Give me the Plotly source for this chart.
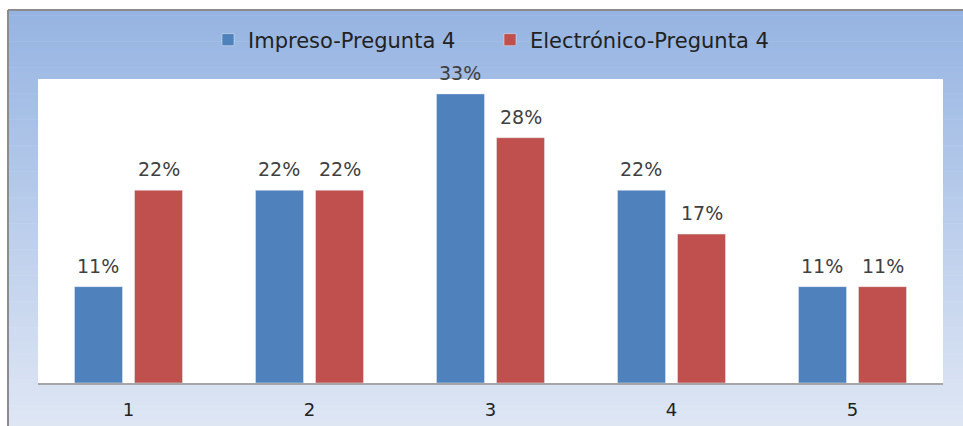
import plotly.graph_objects as go

# Survey results, question 4: share of answers per rating
categories = ["1", "2", "3", "4", "5"]
impreso = [11, 22, 33, 22, 11]
electronico = [22, 22, 28, 17, 11]
series_names = ["Impreso-Pregunta 4", "Electrónico-Pregunta 4"]
series_colors = ["#4F81BD", "#C0504D"]

W, H = 963, 426
L, R, T, B = 38, 20, 79, 43
plot_w = W - L - R
plot_h = H - T - B
BARGAP, GROUPGAP = 0.337, 0.2


def px_x(px):
    return (px - L) / plot_w


def px_y(py):
    return (H - B - py) / plot_h


fig = go.Figure()
for name, vals, col in zip(series_names, [impreso, electronico], series_colors):
    fig.add_trace(go.Bar(x=categories, y=vals, name=name, marker_color=col))

# value labels above each bar, offset to the bar's slot inside its group
slot = (1 - BARGAP) * plot_w / len(categories) / 2
annotations = []
for s, vals in enumerate([impreso, electronico]):
    shift = (s - 0.5) * slot
    for j, v in enumerate(vals):
        annotations.append(dict(
            x=j, y=v, xref="x", yref="y", text=f"{v}%", showarrow=False,
            xanchor="center", yanchor="bottom", xshift=shift, yshift=8,
            font=dict(family="DejaVu Sans", size=19, color="#404040"),
        ))

# vertical gradient behind the chart, drawn as thin bands
shapes = []
top_c = (150, 180, 226)
bot_c = (222, 230, 244)
y_top, y_bot = 10, H
n = 80
for i in range(n):
    t = i / (n - 1)
    c = tuple(round(top_c[k] + (bot_c[k] - top_c[k]) * t) for k in range(3))
    a = y_top + (y_bot - y_top) * i / n
    b = y_top + (y_bot - y_top) * (i + 1) / n + 0.6
    shapes.append(dict(
        type="rect", xref="paper", yref="paper", layer="below",
        x0=px_x(8), x1=px_x(W + 5), y0=px_y(b), y1=px_y(a),
        fillcolor=f"rgb{c}", line=dict(width=0),
    ))
# frame edges
shapes.append(dict(type="line", xref="paper", yref="paper", layer="below",
                   x0=px_x(8), x1=px_x(W + 5), y0=px_y(10), y1=px_y(10),
                   line=dict(color="#8C8C8C", width=2)))
shapes.append(dict(type="line", xref="paper", yref="paper", layer="below",
                   x0=px_x(8), x1=px_x(8), y0=px_y(10), y1=px_y(H + 5),
                   line=dict(color="#8C8C8C", width=2)))
# white plot area
shapes.append(dict(type="rect", xref="paper", yref="paper", layer="below",
                   x0=0, x1=1, y0=0, y1=1, fillcolor="white", line=dict(width=0)))

fig.update_layout(
    width=W, height=H,
    margin=dict(l=L, r=R, t=T, b=B, autoexpand=False),
    paper_bgcolor="white",
    plot_bgcolor="rgba(0,0,0,0)",
    barmode="group", bargap=BARGAP, bargroupgap=GROUPGAP,
    shapes=shapes,
    annotations=annotations,
    showlegend=True,
    legend=dict(
        orientation="h", x=px_x(208), xanchor="left", y=px_y(40), yanchor="middle",
        font=dict(family="DejaVu Sans", size=21, color="#222222"),
        bgcolor="rgba(0,0,0,0)", itemwidth=30, entrywidth=237,
    ),
    xaxis=dict(
        type="category", range=[-0.5, len(categories) - 0.5], automargin=False,
        showline=True, linecolor="#A6A6A6", linewidth=1.5,
        ticks="", showgrid=False, ticklabelstandoff=10,
        tickfont=dict(family="DejaVu Sans", size=18, color="#222222"),
    ),
    yaxis=dict(range=[0, 34.7], visible=False, showgrid=False, zeroline=False,
               automargin=False),
)

fig.write_html("out.html")
